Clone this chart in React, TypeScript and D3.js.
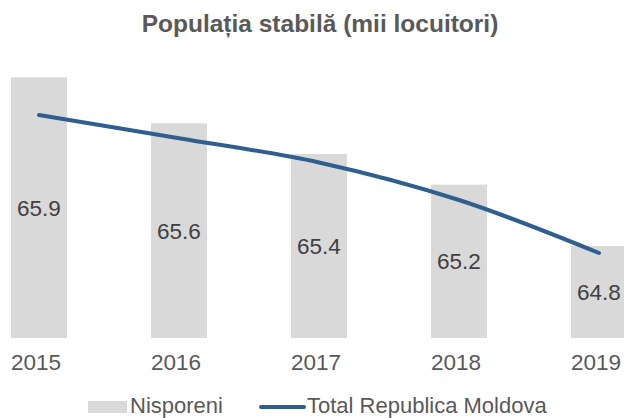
import React from "react";
import * as d3 from "d3";

const years = ["2015", "2016", "2017", "2018", "2019"];
const nisporeni = [65.9, 65.6, 65.4, 65.2, 64.8];
const moldova = [3555.2, 3553.1, 3550.9, 3547.5, 3542.7];
const title = "Populația stabilă (mii locuitori)";
const seriesNames = ["Nisporeni", "Total Republica Moldova"];

const W = 624;
const H = 418;
const plotTop = 62;
const plotBottom = 338;
const font = "'Liberation Sans', Arial, sans-serif";

export default function App() {
  const x = d3.scaleBand<string>().domain(years).range([-31, 669]).paddingInner(0.6).paddingOuter(0.3);
  const y = d3.scaleLinear().domain([64.2, 66.0]).range([plotBottom, plotTop]);
  const y2 = d3.scaleLinear().domain([3535, 3560]).range([plotBottom, plotTop]);
  const cx = (d: string) => (x(d) ?? 0) + x.bandwidth() / 2;
  const line = d3
    .line<number>()
    .x((_, i) => cx(years[i]))
    .y((d) => y2(d))
    .curve(d3.curveCatmullRom.alpha(0.5));

  return (
    <svg width={W} height={H} style={{ position: "absolute", left: 0, top: 0 }}>
      <rect width={W} height={H} fill="#fff" />
      <text x={320} y={32} textAnchor="middle" fontFamily={font} fontWeight="bold" fontSize={24.5} fill="#595959">
        {title}
      </text>
      {years.map((yr, i) => (
        <g key={yr}>
          <rect x={x(yr)} y={y(nisporeni[i])} width={x.bandwidth()} height={plotBottom - y(nisporeni[i])} fill="#D9D9D9" />
          <text
            x={cx(yr)}
            y={(y(nisporeni[i]) + plotBottom) / 2 + 8}
            textAnchor="middle"
            fontFamily={font}
            fontSize={22.5}
            fill="#404040"
          >
            {nisporeni[i].toFixed(1)}
          </text>
          <text x={cx(yr) - 3} y={370} textAnchor="middle" fontFamily={font} fontSize={22.5} fill="#595959">
            {yr}
          </text>
        </g>
      ))}
      <path d={line(moldova) ?? ""} fill="none" stroke="#2F5F8F" strokeWidth={4} strokeLinecap="round" />
      <rect x={88} y={401} width={39} height={12} fill="#D9D9D9" />
      <text x={130} y={413} fontFamily={font} fontSize={22} fill="#595959">
        {seriesNames[0]}
      </text>
      <line x1={261} x2={304} y1={407} y2={407} stroke="#2F5F8F" strokeWidth={4} strokeLinecap="round" />
      <text x={307} y={413} fontFamily={font} fontSize={22} fill="#595959">
        {seriesNames[1]}
      </text>
    </svg>
  );
}
